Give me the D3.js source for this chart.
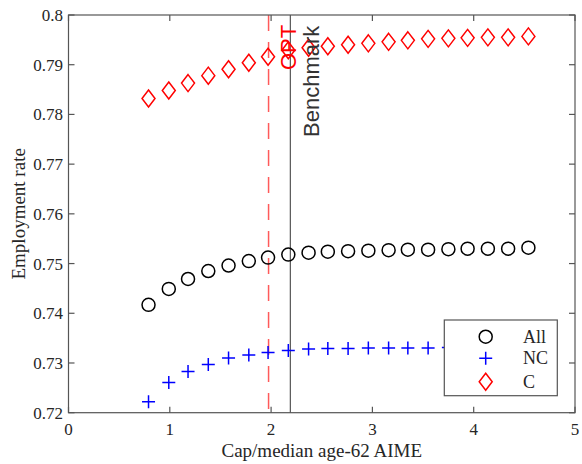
<!DOCTYPE html>
<html>
<head>
<meta charset="utf-8">
<script src="https://cdn.jsdelivr.net/npm/d3@7"></script>
<style>
  html, body { margin: 0; padding: 0; background: #fff; }
  svg { display: block; }
</style>
</head>
<body>
<svg id="chart" width="582" height="464"></svg>
<script>
// ---- data ----
const capX = [0.79, 0.99, 1.18, 1.38, 1.58, 1.78, 1.97, 2.17, 2.37, 2.56, 2.76, 2.96, 3.16, 3.35, 3.55, 3.75, 3.94, 4.14, 4.34, 4.54];
const allRate = [0.7417, 0.7449, 0.7469, 0.7485, 0.7496, 0.7505, 0.7512, 0.7518, 0.7522, 0.7524, 0.7525, 0.7526, 0.7527, 0.7528, 0.7528, 0.7529, 0.7530, 0.7530, 0.7530, 0.7532];
const ncRate = [0.7222, 0.7261, 0.7283, 0.7297, 0.7310, 0.7316, 0.7321, 0.7325, 0.7328, 0.7329, 0.7329, 0.7330, 0.7330, 0.7330, 0.7330, 0.7331, 0.7331, 0.7331, 0.7331, 0.7332];
const cRate = [0.7832, 0.7848, 0.7863, 0.7878, 0.7891, 0.7904, 0.7916, 0.7929, 0.7934, 0.7937, 0.7940, 0.7943, 0.7946, 0.7949, 0.7952, 0.7953, 0.7954, 0.7955, 0.7955, 0.7957];
const optX = 1.975;
const benchX = 2.19;
const xTicks = [0, 1, 2, 3, 4, 5];
const yTicks = [0.72, 0.73, 0.74, 0.75, 0.76, 0.77, 0.78, 0.79, 0.8];
const seriesNames = ["All", "NC", "C"];
const xLabel = "Cap/median age-62 AIME";
const yLabel = "Employment rate";

// ---- layout ----
const L = 68.5, R = 575, T = 15, B = 412.7;
const svg = d3.select("#chart");
const x = d3.scaleLinear().domain([0, 5]).range([L, R]);
const y = d3.scaleLinear().domain([0.72, 0.8]).range([B, T]);
const axisColor = "#555";
const textColor = "#262626";
const serif = "'Liberation Serif', 'Times New Roman', serif";
const sans = "'Liberation Sans', Arial, sans-serif";

// reference lines
svg.append("line")
  .attr("x1", x(optX)).attr("x2", x(optX)).attr("y1", y(0.8)).attr("y2", y(0.72))
  .attr("stroke", "#ff5a5a").attr("stroke-width", 1.5).attr("stroke-dasharray", "16,11");
svg.append("line")
  .attr("x1", x(benchX)).attr("x2", x(benchX)).attr("y1", y(0.8)).attr("y2", y(0.72))
  .attr("stroke", "#555").attr("stroke-width", 1.2);

// markers
function drawCircle(g, cx, cy) {
  g.append("circle").attr("cx", cx).attr("cy", cy).attr("r", 6.5)
    .attr("fill", "none").attr("stroke", "#000").attr("stroke-width", 1.5);
}
function drawPlus(g, cx, cy) {
  g.append("path").attr("d", `M${cx - 6.5},${cy}H${cx + 6.5}M${cx},${cy - 6.5}V${cy + 6.5}`)
    .attr("fill", "none").attr("stroke", "#0000ff").attr("stroke-width", 1.5);
}
function drawDiamond(g, cx, cy) {
  g.append("path").attr("d", `M${cx},${cy - 8.5}L${cx + 6.5},${cy}L${cx},${cy + 8.5}L${cx - 6.5},${cy}Z`)
    .attr("fill", "none").attr("stroke", "#ff0000").attr("stroke-width", 1.5);
}
const marks = svg.append("g");
capX.forEach((cx, i) => drawCircle(marks, x(cx), y(allRate[i])));
capX.forEach((cx, i) => drawPlus(marks, x(cx), y(ncRate[i])));
capX.forEach((cx, i) => drawDiamond(marks, x(cx), y(cRate[i])));

// annotations
svg.append("text")
  .attr("transform", `translate(${x(optX) + 27.5},70) rotate(-90)`)
  .attr("font-family", sans).attr("font-size", 22).attr("fill", "#ff0000")
  .text("OPT");
svg.append("text")
  .attr("transform", `translate(${x(benchX) + 28.5},137) rotate(-90)`)
  .attr("font-family", sans).attr("font-size", 22).attr("fill", "#333")
  .text("Benchmark");

// frame + ticks
const frame = svg.append("g").attr("stroke", axisColor).attr("stroke-width", 1.2).attr("fill", "none");
frame.append("rect").attr("x", L).attr("y", T).attr("width", R - L).attr("height", B - T);
const tl = 6;
xTicks.forEach(v => {
  frame.append("line").attr("x1", x(v)).attr("x2", x(v)).attr("y1", B).attr("y2", B - tl);
  frame.append("line").attr("x1", x(v)).attr("x2", x(v)).attr("y1", T).attr("y2", T + tl);
});
yTicks.forEach(v => {
  frame.append("line").attr("x1", L).attr("x2", L + tl).attr("y1", y(v)).attr("y2", y(v));
  frame.append("line").attr("x1", R).attr("x2", R - tl).attr("y1", y(v)).attr("y2", y(v));
});

// tick labels
svg.append("g").selectAll("text").data(xTicks).join("text")
  .attr("x", d => x(d)).attr("y", 435).attr("text-anchor", "middle")
  .attr("font-family", serif).attr("font-size", 17).attr("fill", textColor)
  .text(d => d3.format("d")(d));
svg.append("g").selectAll("text").data(yTicks).join("text")
  .attr("x", 63).attr("y", d => y(d) + 6).attr("text-anchor", "end")
  .attr("font-family", serif).attr("font-size", 17).attr("fill", textColor)
  .text(d => d === 0.8 ? "0.8" : d3.format(".2f")(d));

// axis labels
svg.append("text")
  .attr("x", (L + R) / 2).attr("y", 457).attr("text-anchor", "middle")
  .attr("font-family", serif).attr("font-size", 19).attr("fill", textColor)
  .text(xLabel);
svg.append("text")
  .attr("transform", `translate(25,${(T + B) / 2}) rotate(-90)`).attr("text-anchor", "middle")
  .attr("font-family", serif).attr("font-size", 19).attr("fill", textColor)
  .text(yLabel);

// legend
const lg = svg.append("g");
lg.append("rect").attr("x", 444.3).attr("y", 320).attr("width", 113).attr("height", 75.7)
  .attr("fill", "#fff").attr("stroke", axisColor).attr("stroke-width", 1.2);
const rowsY = [336.7, 358.3, 381.7];
const drawers = [drawCircle, drawPlus, drawDiamond];
seriesNames.forEach((name, i) => {
  drawers[i](lg, 485.7, rowsY[i]);
  lg.append("text").attr("x", 523).attr("y", rowsY[i] + 6)
    .attr("font-family", serif).attr("font-size", 18).attr("fill", textColor)
    .text(name);
});
</script>
</body>
</html>
